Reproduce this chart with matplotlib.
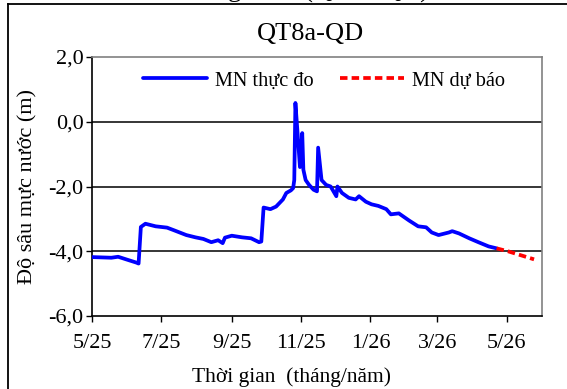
import matplotlib
matplotlib.use("Agg")
import matplotlib.pyplot as plt
from matplotlib.lines import Line2D
import pandas as pd

plt.rcParams['font.family'] = ['Liberation Serif', 'DejaVu Serif']

# Observed water level (MN thực đo)
obs_dates = ["2025-05-01", "2025-05-18", "2025-05-24", "2025-05-31", "2025-06-09", "2025-06-11",
             "2025-06-13", "2025-06-17", "2025-06-26", "2025-07-06", "2025-07-12", "2025-07-23",
             "2025-07-31", "2025-08-07", "2025-08-14", "2025-08-20", "2025-08-24", "2025-08-26",
             "2025-09-01", "2025-09-10", "2025-09-18", "2025-09-25", "2025-09-27", "2025-09-29",
             "2025-10-05", "2025-10-10", "2025-10-16", "2025-10-19", "2025-10-23", "2025-10-25",
             "2025-10-26", "2025-10-27", "2025-10-29", "2025-10-31", "2025-11-02", "2025-11-03",
             "2025-11-05", "2025-11-08", "2025-11-12", "2025-11-15", "2025-11-16", "2025-11-19",
             "2025-11-23", "2025-11-27", "2025-12-02", "2025-12-03", "2025-12-07", "2025-12-13",
             "2025-12-19", "2025-12-22", "2025-12-28", "2026-01-02", "2026-01-08", "2026-01-15",
             "2026-01-19", "2026-01-26", "2026-02-04", "2026-02-12", "2026-02-19", "2026-02-24",
             "2026-03-02", "2026-03-11", "2026-03-14", "2026-03-20", "2026-03-29", "2026-04-06",
             "2026-04-15", "2026-04-22"]
obs_values = [-4.18, -4.20, -4.17, -4.25, -4.35, -4.38,
              -3.25, -3.15, -3.23, -3.27, -3.35, -3.50,
              -3.57, -3.62, -3.72, -3.66, -3.75, -3.58,
              -3.52, -3.57, -3.60, -3.72, -3.70, -2.65,
              -2.70, -2.62, -2.40, -2.20, -2.12, -2.05,
              -1.80, 0.58, -0.40, -1.40, -0.35, -1.48,
              -1.80, -1.95, -2.10, -2.15, -0.80, -1.80,
              -1.95, -2.00, -2.30, -2.00, -2.20, -2.35,
              -2.40, -2.30, -2.47, -2.55, -2.60, -2.70,
              -2.86, -2.83, -3.05, -3.23, -3.26, -3.42,
              -3.50, -3.42, -3.38, -3.45, -3.60, -3.72,
              -3.85, -3.91]

# Forecast water level (MN dự báo)
fc_dates = ["2026-04-22", "2026-05-02", "2026-05-25"]
fc_values = [-3.91, -4.00, -4.25]

xtick_dates = ["2025-05-01", "2025-07-01", "2025-09-01", "2025-11-01",
               "2026-01-01", "2026-03-01", "2026-05-01"]
xtick_labels = ["5/25", "7/25", "9/25", "11/25", "1/26", "3/26", "5/26"]
yticks = [2.0, 0.0, -2.0, -4.0, -6.0]
ytick_labels = ["2,0", "0,0", "-2,0", "-4,0", "-6,0"]

fig = plt.figure(figsize=(5.67, 3.89), dpi=100)
ax = fig.add_axes([92/567, 1-316/389, (542-92)/567, (316-57)/389])

ax.plot(pd.to_datetime(obs_dates), obs_values, color='#0000FF', lw=2.7,
        solid_joinstyle='round', solid_capstyle='round', label='MN thực đo', zorder=3)
ax.plot(pd.to_datetime(fc_dates), fc_values, color='#FF0000', lw=2.7,
        dashes=(2.0, 1.1), label='MN dự báo', zorder=3)

ax.set_xlim(pd.Timestamp("2025-05-01"), pd.Timestamp("2026-06-01"))
ax.set_ylim(-6, 2)
ax.set_yticks(yticks)
ax.set_yticklabels(ytick_labels)
ax.set_xticks(pd.to_datetime(xtick_dates))
ax.set_xticklabels(xtick_labels)
ax.tick_params(direction='out', length=4, width=1, labelsize=16, colors='black')
ax.tick_params(axis='x', pad=9)
ax.tick_params(axis='y', pad=2)

for y in [0.0, -2.0, -4.0]:
    ax.axhline(y, color='black', lw=1.1, zorder=1)

for s in ['top', 'right']:
    ax.spines[s].set_color('#808080')
    ax.spines[s].set_linewidth(1.2)
for s in ['left', 'bottom']:
    ax.spines[s].set_color('black')
    ax.spines[s].set_linewidth(1.2)

ax.set_ylabel("Độ sâu mực nước (m)", fontsize=16)
ax.yaxis.set_label_coords(-(92-28)/450, 0.5)
ax.set_xlabel("Thời gian  (tháng/năm)", fontsize=15.5)
ax.xaxis.set_label_coords((292-92)/450, -(377-316)/259)
ax.xaxis.label.set_va('center')
ax.yaxis.label.set_va('center')
fig.text(310/567, 1-34/389, "QT8a-QD", fontsize=19, ha='center', va='center')

leg = ax.legend(loc='upper center', ncol=2, frameon=False, fontsize=14.6,
                handlelength=3.15, handletextpad=0.4, columnspacing=1.33,
                borderaxespad=0.3, bbox_to_anchor=(0.516, 1.0))

# outer chart border (left/top)
fig.add_artist(Line2D([8/567, 8/567], [0, 1-4/389], color='black', lw=1.3,
                      transform=fig.transFigure))
fig.add_artist(Line2D([8/567, 1], [1-4/389, 1-4/389], color='black', lw=1.3,
                      transform=fig.transFigure))
# text of the chart above, cut off at the top edge
fig.text(429/567, 1+2.5/389, "công trình (QT8a-QD)", fontsize=19, ha='right', va='baseline')

fig.savefig("out.png", dpi=100)
